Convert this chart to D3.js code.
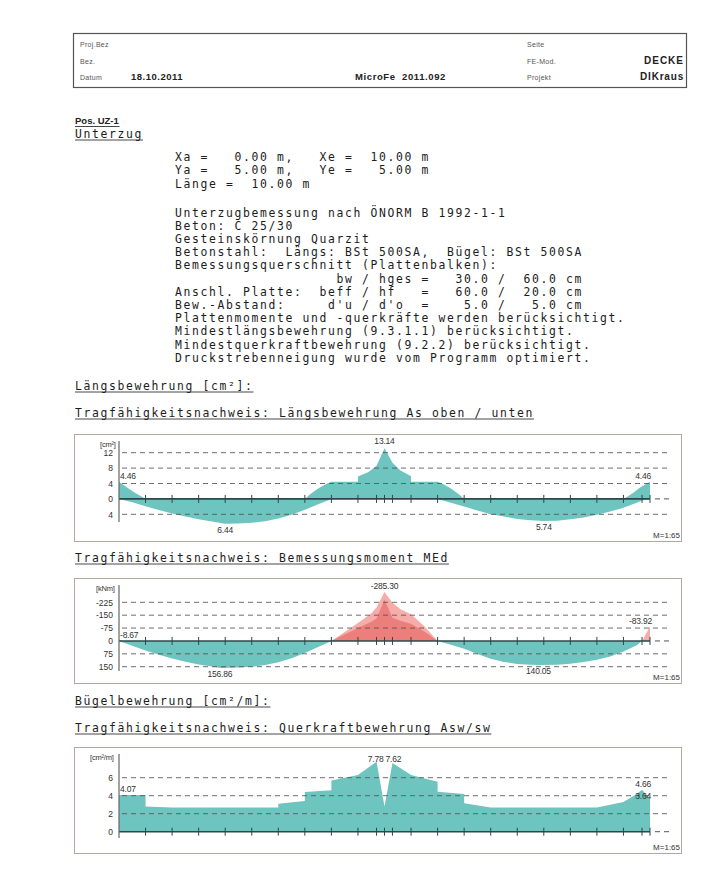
<!DOCTYPE html>
<html><head><meta charset="utf-8">
<script src="https://cdn.jsdelivr.net/npm/d3@7"></script>
<style>html,body{margin:0;padding:0;background:#fff;} svg{display:block;}</style>
</head><body>
<svg id="page" width="708" height="883"></svg>
<script>
// ---------- DATA ----------
const headerLeftLabels = ["Proj.Bez", "Bez.", "Datum"];
const headerRightLabels = ["Seite", "FE-Mod.", "Projekt"];
const headerDate = "18.10.2011";
const headerProgram = "MicroFe  2011.092";
const headerFeMod = "DECKE";
const headerProjekt = "DIKraus";
const posTitle = "Pos. UZ-1";
const posName = "Unterzug";
const coordLines = [
  "Xa =   0.00 m,   Xe =  10.00 m",
  "Ya =   5.00 m,   Ye =   5.00 m",
  "Länge =  10.00 m"
];
const designLines = [
  "Unterzugbemessung nach ÖNORM B 1992-1-1",
  "Beton: C 25/30",
  "Gesteinskörnung Quarzit",
  "Betonstahl:  Längs: BSt 500SA,  Bügel: BSt 500SA",
  "Bemessungsquerschnitt (Plattenbalken):",
  "                   bw / hges =   30.0 /  60.0 cm",
  "Anschl. Platte:  beff / hf   =   60.0 /  20.0 cm",
  "Bew.-Abstand:     d'u / d'o  =    5.0 /   5.0 cm",
  "Plattenmomente und -querkräfte werden berücksichtigt.",
  "Mindestlängsbewehrung (9.3.1.1) berücksichtigt.",
  "Mindestquerkraftbewehrung (9.2.2) berücksichtigt.",
  "Druckstrebenneigung wurde vom Programm optimiert."
];
const sectionHeadings = [
  "Längsbewehrung [cm²]:",
  "Tragfähigkeitsnachweis: Längsbewehrung As oben / unten",
  "Tragfähigkeitsnachweis: Bemessungsmoment MEd",
  "Bügelbewehrung [cm²/m]:",
  "Tragfähigkeitsnachweis: Querkraftbewehrung Asw/sw"
];
const scaleNote = "M=1:65";
const beamLength = [0, 10];
const beamTicks = [0.5,1,1.5,2,2.5,3,3.5,4,4.5,4.85,5,5.15,5.5,6,6.5,7,7.5,8,8.5,9,9.5,9.85,10];

// Chart 1: Längsbewehrung As oben (up) / unten (down) [cm²]
const asUnit = "[cm²]";
const asGrid = [12, 8, 4, 0, -4];
const asTop = [[0,4.46],[0.1,3.5],[0.2,2.5],[0.3,1.6],[0.4,0.8],[0.5,0],[3.5,0],[3.6,1.2],[3.75,2.7],[3.9,3.9],[4.0,4.46],[4.5,4.46],[4.5,5.8],[4.7,7.0],[4.85,8.6],[5.0,13.14],[5.15,9.4],[5.3,7.4],[5.5,5.9],[5.5,4.46],[6.0,4.46],[6.1,3.9],[6.25,2.7],[6.4,1.2],[6.5,0],[9.5,0],[9.6,0.8],[9.7,1.7],[9.8,2.8],[9.9,3.7],[10,4.46],[10,0]];
const asBottom = [[0,0],[0.25,0.9],[0.5,1.9],[0.75,2.9],[1.0,3.8],[1.25,4.6],[1.5,5.3],[1.75,5.9],[2.0,6.44],[2.25,6.4],[2.5,6.2],[2.75,5.8],[3.0,5.1],[3.25,4.1],[3.5,2.8],[3.75,1.4],[4.0,0],[6.0,0],[6.25,1.0],[6.5,2.0],[6.75,3.0],[7.0,4.0],[7.25,4.6],[7.5,5.2],[7.75,5.55],[8.0,5.74],[8.25,5.7],[8.5,5.3],[8.75,4.8],[9.0,4.1],[9.25,3.3],[9.5,2.3],[9.75,1.0],[9.85,0.4],[10,0]];
const asLabels = [
  {x:0, v:4.46, text:"4.46", anchor:"start", dx:1, dy:-3},
  {x:5, v:13.14, text:"13.14", anchor:"middle", dx:0, dy:-4},
  {x:10, v:4.46, text:"4.46", anchor:"end", dx:1, dy:-3},
  {x:2.0, v:-6.44, text:"6.44", anchor:"middle", dx:0, dy:9},
  {x:8.0, v:-5.74, text:"5.74", anchor:"middle", dx:0, dy:9}
];

// Chart 2: Bemessungsmoment MEd [kNm] (negative up)
const medUnit = "[kNm]";
const medGrid = [-225, -150, -75, 0, 75, 150];
const medPositive = [[0,0],[0.25,28],[0.5,55],[0.75,80],[1.0,102],[1.25,121],[1.5,137],[1.75,149],[1.9,156.86],[2.25,155],[2.5,150],[2.75,140],[3.0,124],[3.25,101],[3.5,70],[3.75,35],[4.0,0],[6.0,0],[6.25,22],[6.5,46],[6.75,76],[7.0,104],[7.25,122],[7.5,134],[7.75,139],[7.9,140.05],[8.25,139],[8.5,133],[8.75,123],[9.0,110],[9.25,90],[9.5,62],[9.75,25],[9.85,0],[10,0]];
const medNegOuter = [[0,-8.67],[0.08,0],[4.0,0],[4.25,-52],[4.5,-105],[4.75,-160],[4.85,-195],[5.0,-285.3],[5.15,-222],[5.3,-185],[5.5,-155],[5.75,-85],[6.0,0],[9.85,0],[10,-83.92],[10,0]];
const medNegInner = [[0,0],[4.0,0],[4.25,-38],[4.5,-76],[4.75,-112],[4.85,-130],[5.0,-240],[5.15,-135],[5.3,-118],[5.5,-100],[5.75,-55],[6.0,0],[10,0]];
const medLabels = [
  {x:0, v:0, text:"-8.67", anchor:"start", dx:1, dy:-3},
  {x:5, v:-285.3, text:"-285.30", anchor:"middle", dx:0, dy:-3},
  {x:1.9, v:156.86, text:"156.86", anchor:"middle", dx:0, dy:9},
  {x:7.9, v:140.05, text:"140.05", anchor:"middle", dx:0, dy:9},
  {x:10, v:-83.92, text:"-83.92", anchor:"end", dx:2, dy:-3}
];

// Chart 3: Querkraftbewehrung Asw/sw [cm²/m]
const aswUnit = "[cm²/m]";
const aswGrid = [6, 4, 2, 0];
const aswValues = [[0,4.07],[0.5,4.07],[0.5,2.8],[0.75,2.75],[1.0,2.7],[3.0,2.7],[3.0,3.1],[3.5,3.4],[3.5,4.4],[4.0,4.6],[4.0,5.7],[4.5,6.3],[4.85,7.78],[5.0,2.8],[5.15,7.62],[5.5,6.3],[6.0,5.55],[6.0,4.45],[6.5,4.2],[6.5,3.15],[7.0,2.7],[9.0,2.7],[9.5,3.3],[9.75,4.2],[9.85,4.66],[10,3.64],[10,0]];
const aswLabels = [
  {x:0, v:4.07, text:"4.07", anchor:"start", dx:1, dy:-3},
  {x:4.85, v:7.78, text:"7.78", anchor:"end", dx:7, dy:0},
  {x:5.15, v:7.62, text:"7.62", anchor:"start", dx:-7, dy:-1},
  {x:10, v:4.66, text:"4.66", anchor:"end", dx:1, dy:-3},
  {x:10, v:3.64, text:"3.64", anchor:"end", dx:1, dy:0}
];

// ---------- DRAW ----------
const svg = d3.select("#page");
const MONO = "'DejaVu Sans Mono', monospace";
const SANS = "'Liberation Sans', Arial, sans-serif";
const TEAL = "#6ec4bf", RED_OUT = "#f6aca8", RED_IN = "#ec7f7b";
const MONO_SIZE = 11.4, MONO_LS = 1.64, INK = "#1c1c1c";

svg.append("rect").attr("width",708).attr("height",883).attr("fill","#fff");

// header box
const hdr = svg.append("g");
hdr.append("rect").attr("x",73.5).attr("y",33.5).attr("width",613).attr("height",54)
  .attr("fill","none").attr("stroke","#555").attr("stroke-width",1.2);
const rowY = [47, 63.5, 80];
hdr.selectAll("text.hl").data(headerLeftLabels).join("text")
  .attr("x",80).attr("y",(d,i)=>rowY[i]).text(d=>d)
  .attr("font-family",SANS).attr("font-size",7).attr("fill","#555").attr("letter-spacing",0.3);
hdr.selectAll("text.hr").data(headerRightLabels).join("text")
  .attr("x",527).attr("y",(d,i)=>rowY[i]).text(d=>d)
  .attr("font-family",SANS).attr("font-size",7).attr("fill","#555").attr("letter-spacing",0.3);
function boldText(x,y,t,anchor,size,ls){
  return hdr.append("text").attr("x",x).attr("y",y).text(t).attr("text-anchor",anchor)
   .attr("font-family",SANS).attr("font-weight","bold").attr("font-size",size)
   .attr("fill","#222").attr("letter-spacing",ls).style("white-space","pre");
}
boldText(131,80,headerDate,"start",9.5,0.5);
boldText(355,80,headerProgram,"start",9.5,0.6);
boldText(684,63.5,headerFeMod,"end",10,1);
boldText(684,80,headerProjekt,"end",10,0.8);

function underlined(g, x, y, t, attrs){
  const el = g.append("text").attr("x",x).attr("y",y).text(t).style("white-space","pre");
  Object.entries(attrs).forEach(([k,v])=>el.attr(k,v));
  const w = el.node().getBBox().width;
  g.append("line").attr("x1",x).attr("x2",x+w).attr("y1",y+2.5).attr("y2",y+2.5)
    .attr("stroke","#333").attr("stroke-width",0.9);
  return el;
}
const body = svg.append("g");
const monoAttrs = {"font-family":MONO,"font-size":MONO_SIZE,"fill":INK,"letter-spacing":MONO_LS};
underlined(body,75,124,posTitle,{"font-family":SANS,"font-size":9.5,"font-weight":"bold","fill":"#222"});
underlined(body,75,137.5,posName,monoAttrs);

body.selectAll("text.coord").data(coordLines).join("text")
  .attr("x",175).attr("y",(d,i)=>161+i*13.3).text(d=>d)
  .style("white-space","pre").attr("font-family",MONO).attr("font-size",MONO_SIZE)
  .attr("fill",INK).attr("letter-spacing",MONO_LS);
body.selectAll("text.design").data(designLines).join("text")
  .attr("x",175).attr("y",(d,i)=>216.5+i*13.2).text(d=>d)
  .style("white-space","pre").attr("font-family",MONO).attr("font-size",MONO_SIZE)
  .attr("fill",INK).attr("letter-spacing",MONO_LS);

const headingY = [389.5, 416.5, 561.5, 704.5, 731.5];
sectionHeadings.forEach((t,i)=>underlined(body,75,headingY[i],t,monoAttrs));

const x = d3.scaleLinear().domain(beamLength).range([119,650]);

function drawChart(cfg){
  const g = svg.append("g");
  const y = d3.scaleLinear().domain(cfg.domain).range(cfg.range);
  g.append("rect").attr("x",74.5).attr("y",cfg.top+0.5).attr("width",607).attr("height",cfg.bottom-cfg.top)
    .attr("fill","none").attr("stroke","#b3a7a1").attr("stroke-width",1);
  const area = d3.area().x(d=>x(d[0])).y0(y(0)).y1(d=>y(d[1]));
  cfg.series.forEach(s=>{
    g.append("path").datum(s.data).attr("d",area).attr("fill",s.color).attr("stroke","none");
  });
  // grid
  g.selectAll("line.grid").data(cfg.grid.filter(d=>d!==0)).join("line")
    .attr("x1",122).attr("x2",670).attr("y1",d=>y(d)).attr("y2",d=>y(d))
    .attr("stroke","#555").attr("stroke-width",1).attr("stroke-dasharray","5,4").attr("opacity",0.85);
  // zero line
  g.append("line").attr("x1",x(0)).attr("x2",x(10)).attr("y1",y(0)).attr("y2",y(0))
    .attr("stroke","#2d4848").attr("stroke-width",1.6);
  g.append("line").attr("x1",x(10)+5).attr("x2",670).attr("y1",y(0)).attr("y2",y(0))
    .attr("stroke","#555").attr("stroke-width",1).attr("stroke-dasharray","5,4");
  g.selectAll("line.tick").data(beamTicks).join("line")
    .attr("x1",d=>x(d)).attr("x2",d=>x(d)).attr("y1",y(0)-4).attr("y2",y(0)+4)
    .attr("stroke","#2d4848").attr("stroke-width",1);
  // y axis line
  g.append("line").attr("x1",x(0)).attr("x2",x(0)).attr("y1",cfg.axisTop).attr("y2",cfg.axisBottom)
    .attr("stroke","#666").attr("stroke-width",1.2);
  // y labels through axis
  const ax = d3.axisLeft(y).tickValues(cfg.grid).tickSize(0).tickPadding(0)
    .tickFormat(cfg.fmt);
  const axg = g.append("g").attr("transform",`translate(113,0)`).call(ax);
  axg.select(".domain").remove();
  axg.selectAll("text").attr("font-family",SANS).attr("font-size",8.5).attr("fill","#333");
  g.append("text").attr("x",cfg.unitX).attr("y",cfg.top+13).text(cfg.unit)
    .attr("font-family",SANS).attr("font-size",7.5).attr("fill","#333").attr("letter-spacing",-0.2);
  // value labels
  g.selectAll("text.val").data(cfg.labels).join("text")
    .attr("x",d=>x(d.x)+d.dx).attr("y",d=>y(d.v)+d.dy).text(d=>d.text)
    .attr("text-anchor",d=>d.anchor)
    .attr("font-family",SANS).attr("font-size",8.5).attr("fill","#333").attr("letter-spacing",-0.2);
  g.append("text").attr("x",680).attr("y",cfg.bottom-3).attr("text-anchor","end").text(scaleNote)
    .attr("font-family",SANS).attr("font-size",8).attr("fill","#333");
}

drawChart({top:434, bottom:541, domain:[-4,12], range:[514.3,452.7],
  grid:asGrid, fmt:d=>String(Math.abs(d)), unit:asUnit, unitX:100,
  axisTop:441, axisBottom:522,
  series:[{data:asTop,color:TEAL},{data:asBottom.map(d=>[d[0],-d[1]]),color:TEAL}],
  labels:asLabels});

drawChart({top:578, bottom:683, domain:[150,-225], range:[666.7,602.3],
  grid:medGrid, fmt:d=>String(d), unit:medUnit, unitX:96,
  axisTop:585, axisBottom:671,
  series:[{data:medPositive,color:TEAL},{data:medNegOuter,color:RED_OUT},{data:medNegInner,color:RED_IN}],
  labels:medLabels});

drawChart({top:747, bottom:853, domain:[0,6], range:[831.7,777.7],
  grid:aswGrid, fmt:d=>String(d), unit:aswUnit, unitX:90,
  axisTop:754, axisBottom:838,
  series:[{data:aswValues,color:TEAL}],
  labels:aswLabels});
</script>
</body></html>
